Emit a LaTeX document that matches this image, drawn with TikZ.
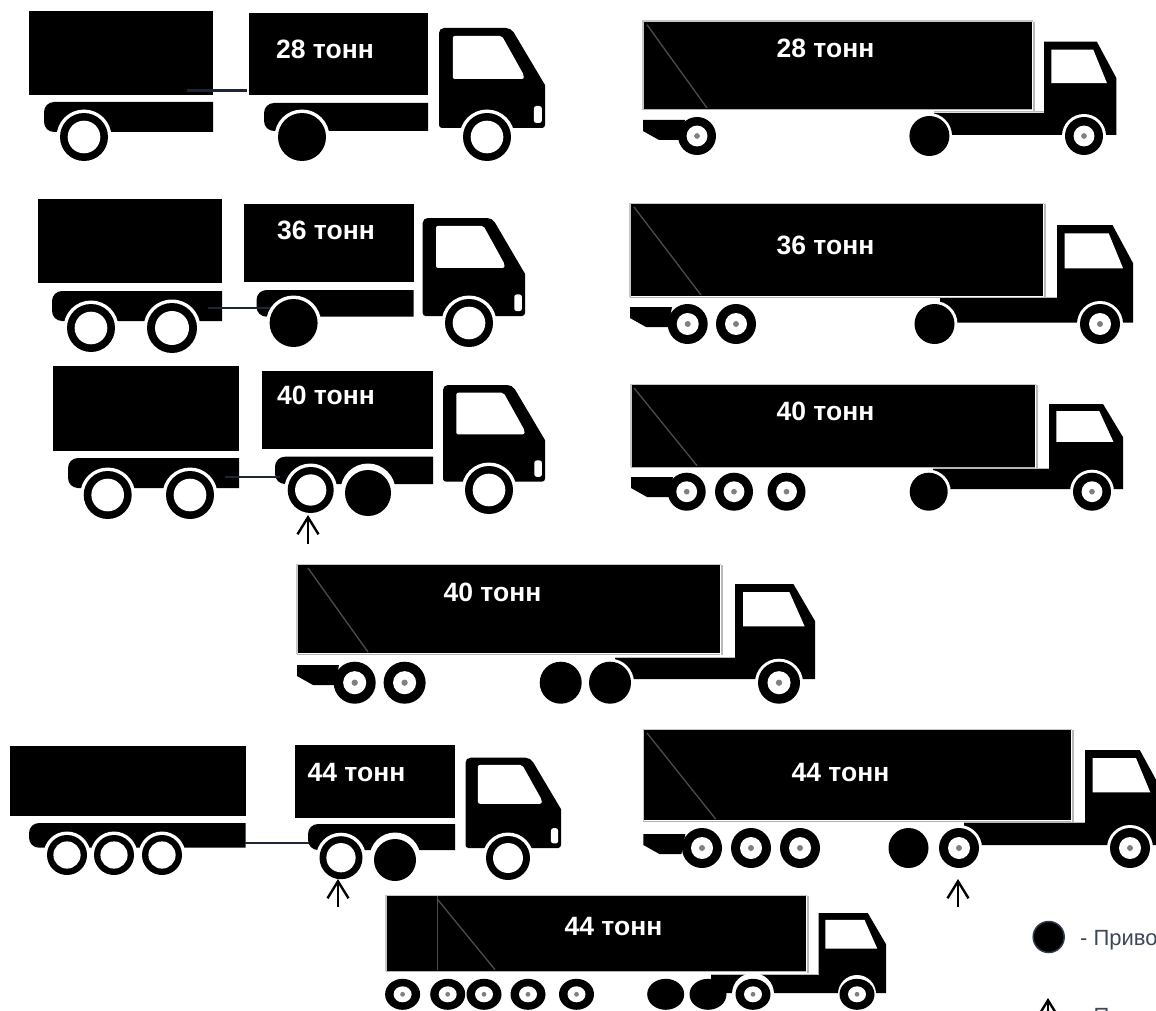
\documentclass[tikz,border=0pt]{standalone}
\usepackage{fontspec}
\setmainfont{Liberation Sans}
\usetikzlibrary{arrows.meta}
\definecolor{hitchc}{HTML}{1C2733}
\definecolor{legendc}{HTML}{3C4858}
\definecolor{rimc}{HTML}{2F3B4C}
\tikzset{
  weight/.style={text=white,font=\fontsize{26.5}{26.5}\selectfont\bfseries,inner sep=0pt,anchor=center},
  hitch/.style={draw=hitchc,line width=2pt},
  liftarrow/.style={draw=black,line width=2.4pt,-{Straight Barb[length=17pt,width=21pt,line width=2.4pt]}},
  legendtext/.style={text=legendc,font=\fontsize{22}{22}\selectfont,inner sep=0pt,anchor=base west}
}
% box
\newcommand{\bodybox}[4]{\fill[black] (#1,#3) rectangle (#2,#4);}
% rigid chassis with rounded tail
\newcommand{\rigchassis}[4]{\fill[black,rounded corners=10pt] ({#1+30},#3)--(#1,#3)--(#1,#4)--({#1+30},#4)[sharp corners]--(#2,#4)--(#2,#3)--cycle;}
\newcommand{\archW}[3]{\fill[white] (#1,#2) circle[radius=#3pt];}
\newcommand{\openW}[3]{\fill[black] (#1,#2) circle[radius=#3pt];\fill[white] (#1,#2) circle[radius={0.68*#3 pt}];}
\newcommand{\solidW}[3]{\fill[black] (#1,#2) circle[radius=#3pt];}
\newcommand{\hubW}[3]{\fill[black] (#1,#2) circle[radius=#3pt];\fill[white] (#1,#2) circle[radius={0.55*#3 pt}];\fill[gray] (#1,#2) circle[radius={0.15*#3 pt}];}
% stretched wheels of the bottom truck
\newcommand{\solidE}[2]{\fill[black] (#1,#2) ellipse[x radius=18.5pt,y radius=15.5pt];}
\newcommand{\hubE}[2]{\fill[black] (#1,#2) ellipse[x radius=17.5pt,y radius=15.5pt];\fill[white] (#1,#2) ellipse[x radius=9pt,y radius=8pt];\fill[gray] (#1,#2) circle[radius=2.4pt];}
% rigid cab L R T B
\newcommand{\rigcab}[4]{%
  \pgfmathsetmacro\cw{#2-#1}\pgfmathsetmacro\ch{#4-#3}%
  \fill[black,rounded corners=5pt] (#1,#4)--(#1,#3)--({#1+.68*\cw},#3)[sharp corners]--(#2,{#3+.57*\ch})[rounded corners=3pt]--(#2,#4)--cycle;
  \fill[white,rounded corners=2pt] ({#1+.13*\cw},{#3+.08*\ch})--({#1+.594*\cw},{#3+.08*\ch})--({#1+.80*\cw},{#3+.47*\ch})--({#1+.80*\cw},{#3+.51*\ch})--({#1+.13*\cw},{#3+.51*\ch})--cycle;
  \fill[white,rounded corners=2.5pt] ({#1+.895*\cw},{#3+.78*\ch}) rectangle ({#1+.97*\cw},{#3+.95*\ch});
}
% semi trailer box: xl xr yt yb diagx0 diagx1
\newcommand{\semibox}[6]{%
  \fill[black] (#1,#3) rectangle (#2,#4);
  \draw[gray!45,line width=1.2pt] (#1,{#4+.6})--(#1,{#3-.6})--({#2+.6},{#3-.6});
  \draw[gray!55,line width=2pt] ({#2+1.5},#3)--({#2+1.5},{#4+2});
  \draw[gray!60,line width=1pt] (#1,{#4+1})--(#2,{#4+1});
  \draw[black!70!white,line width=1.3pt] (#5,{#3+3})--(#6,{#4-1});
}
% semi cab: L R T chL chT chB
\newcommand{\semicab}[6]{%
  \pgfmathsetmacro\cw{#2-#1}\pgfmathsetmacro\ch{#6-#3}%
  \fill[black] (#4,#5)--(#1,#5)--(#1,#3)--({#1+.73*\cw},#3)--(#2,{#3+.39*\ch})--(#2,#6)--(#4,#6)--cycle;
  \draw[gray!55,line width=1pt] (#4,{#5-1})--(#1,{#5-1});
  \fill[white] ({#1+.10*\cw},{#3+.085*\ch})--({#1+.68*\cw},{#3+.085*\ch})--({#1+.87*\cw},{#3+.445*\ch})--({#1+.10*\cw},{#3+.445*\ch})--cycle;
}
% tail: x y
\newcommand{\semitail}[2]{\fill[black] (#1,#2)--({#1+42},#2)--({#1+38},{#2+20})--({#1+16},{#2+20})--(#1,{#2+11})--cycle;}
\begin{document}
\begin{tikzpicture}[x=1pt,y=-1pt]
\path[use as bounding box] (0,0) rectangle (1156,1011);
\fill[white] (0,0) rectangle (1156,1011);
\clip (0,0) rectangle (1156,1011);

% ===== Row 1 left =====
\bodybox{29}{213}{11}{95}
\rigchassis{44}{213}{102}{132}
\archW{84}{137}{27.5}
\openW{84}{137}{24}
\bodybox{249}{428}{13.5}{95.5}
\rigchassis{264}{428}{103}{131}
\archW{302}{137}{27.5}
\solidW{302}{137}{24}
\rigcab{439}{545}{28}{128}
\archW{487}{137}{27.5}
\openW{487}{137}{24}
\coordinate (h1a) at (187,91);
\coordinate (h1b) at (247,91);
\draw[hitch,line width=3pt] (h1a)--(h1b);
\node[weight] (t1) at (325,49) {28 тонн};

% ===== Row 1 right =====
\semibox{643}{1032}{21.7}{109}{647}{707}
\semicab{1044}{1116.4}{41.7}{934}{113}{135}
\semitail{643}{120}
\archW{1084}{136}{22}\archW{929}{136}{23}
\solidW{929.4}{136}{20}
\hubW{697}{136}{19}
\hubW{1084}{136}{19}
\node[weight] (t2) at (825.5,48) {28 тонн};

% ===== Row 2 left =====
\bodybox{37.6}{221.7}{199}{283}
\rigchassis{52}{222}{291}{321}
\archW{91}{328}{27.5}\archW{172}{328}{28.5}
\openW{91}{328}{24}\openW{172}{328}{25}
\bodybox{244}{413.6}{204}{282}
\rigchassis{256.5}{413.6}{290}{316.7}
\archW{293.6}{323}{27.5}
\coordinate (h2a) at (207.5,308);
\coordinate (h2b) at (270,308);
\draw[hitch] (h2a)--(h2b);
\solidW{293.6}{323}{24}
\rigcab{422.7}{525}{218}{316}
\archW{469}{323}{27.5}
\openW{469}{323}{24}
\node[weight] (t3) at (326,230) {36 тонн};

% ===== Row 2 right =====
\semibox{630}{1043}{204}{296}{634}{701}
\semicab{1057}{1133}{225}{940}{298}{322.7}
\semitail{630}{307}
\archW{1100}{324}{23}\archW{934.5}{324}{23}
\solidW{934.5}{324}{20}
\hubW{687.7}{324}{20}\hubW{736}{324}{20}
\hubW{1100}{324}{20}
\node[weight] (t4) at (825.5,245) {36 тонн};

% ===== Row 3 left =====
\bodybox{52.7}{239}{365.7}{450.7}
\rigchassis{68}{239}{458}{488}
\archW{107.7}{495}{27.5}\archW{190}{495}{27.5}
\openW{107.7}{495}{24}\openW{190}{495}{24}
\bodybox{261.7}{433}{371}{449}
\rigchassis{275}{433}{456.7}{484}
\archW{310.7}{490}{26.5}\archW{368}{491}{27.5}
\coordinate (h3a) at (225,476.7);
\coordinate (h3b) at (280,476.7);
\draw[hitch] (h3a)--(h3b);
\openW{310.7}{490}{23}\solidW{368}{493}{23}
\rigcab{443}{545}{385}{481.7}
\archW{489}{490}{27.5}
\openW{489}{490}{24}
\node[weight] (t5) at (326,395) {40 тонн};
\coordinate (a3a) at (308,544);
\coordinate (a3b) at (308,515);
\draw[liftarrow] (a3a)--(a3b);

% ===== Row 3 right =====
\semibox{631}{1035}{385}{466.7}{634}{697}
\semicab{1049}{1123}{404}{933}{469}{489}
\semitail{631}{477}
\archW{1092}{491.7}{22}\archW{928.7}{491.7}{22}
\solidW{928.7}{491.7}{19}
\hubW{686.7}{491.7}{19}\hubW{734}{491.7}{19}\hubW{786.5}{491.7}{19}
\hubW{1092}{491.7}{19}
\node[weight] (t6) at (825.5,411) {40 тонн};

% ===== Row 4 centre =====
\semibox{297}{720}{565}{653}{308}{368}
\semicab{735}{815}{584}{615}{658}{679}
\semitail{297}{665}
\archW{779}{682.7}{24}\archW{610}{682.7}{24}
\solidW{560.7}{682.7}{21}\solidW{610}{682.7}{21}
\hubW{354.7}{682.7}{21}\hubW{404.6}{682.7}{21}
\hubW{779}{682.7}{21}
\node[weight] (t7) at (492.5,592.7) {40 тонн};

% ===== Row 5 left =====
\bodybox{10}{245.5}{746}{816}
\rigchassis{29}{245.5}{823}{847.7}
\archW{67}{855}{23.5}\archW{114}{855}{23.5}\archW{162}{855}{23.5}
\openW{67}{855}{20}\openW{114}{855}{20}\openW{162}{855}{20}
\bodybox{294.5}{455}{745}{817.7}
\rigchassis{308}{455}{824}{850}
\archW{341}{857.7}{25}\archW{395}{858}{25.5}
\coordinate (h5a) at (245,842.7);
\coordinate (h5b) at (309,842.7);
\draw[hitch] (h5a)--(h5b);
\openW{341}{857.7}{21.5}\solidW{395}{860}{21}
\rigcab{465.5}{561}{757.7}{848}
\archW{508}{858}{25.5}
\openW{508}{858}{22}
\node[weight] (t8) at (356.5,773) {44 тонн};
\coordinate (a5a) at (338,907);
\coordinate (a5b) at (338,879);
\draw[liftarrow] (a5a)--(a5b);

% ===== Row 5 right =====
\semibox{643.4}{1071}{730}{820}{647}{715.6}
\semicab{1085}{1160}{750}{964}{823}{845}
\semitail{643.4}{834}
\archW{1130}{848}{23}\archW{959}{848}{23}
\solidW{908.5}{848}{20}
\hubW{702}{848}{20}\hubW{751}{848}{20}\hubW{800}{848}{20}
\hubW{959}{848}{20}
\hubW{1130}{848}{20}
\node[weight] (t9) at (840.5,773) {44 тонн};
\coordinate (a6a) at (958,907);
\coordinate (a6b) at (958,879);
\draw[liftarrow] (a6a)--(a6b);

% ===== Row 6 =====
\semibox{386}{806}{895.7}{970.7}{437}{495}
\draw[black!70!white,line width=.8pt] (437.7,896)--(437.7,970);
\semicab{818.6}{886}{913}{711}{975}{993}
\archW{857}{994}{19}\archW{753}{994}{21}
\solidE{665.7}{994.3}\solidE{708}{994.3}
\hubE{402.6}{994.3}\hubE{447.7}{994.3}\hubE{484}{994.3}\hubE{528}{994.3}\hubE{576.5}{994.3}
\hubE{753}{994.3}\hubE{857}{994.3}
\node[weight] (t10) at (613.5,926.7) {44 тонн};

% ===== Legend =====
\fill[black,draw=rimc,line width=1.5pt] (1048.7,937) circle[radius=15.5pt];
\node[legendtext] (l1) at (1080,945) {- Приво};
\coordinate (a7a) at (1048,1030);
\coordinate (a7b) at (1048,998);
\draw[liftarrow] (a7a)--(a7b);
\node[legendtext] (l2) at (1080,1023.5) {- П};
\end{tikzpicture}
\end{document}
